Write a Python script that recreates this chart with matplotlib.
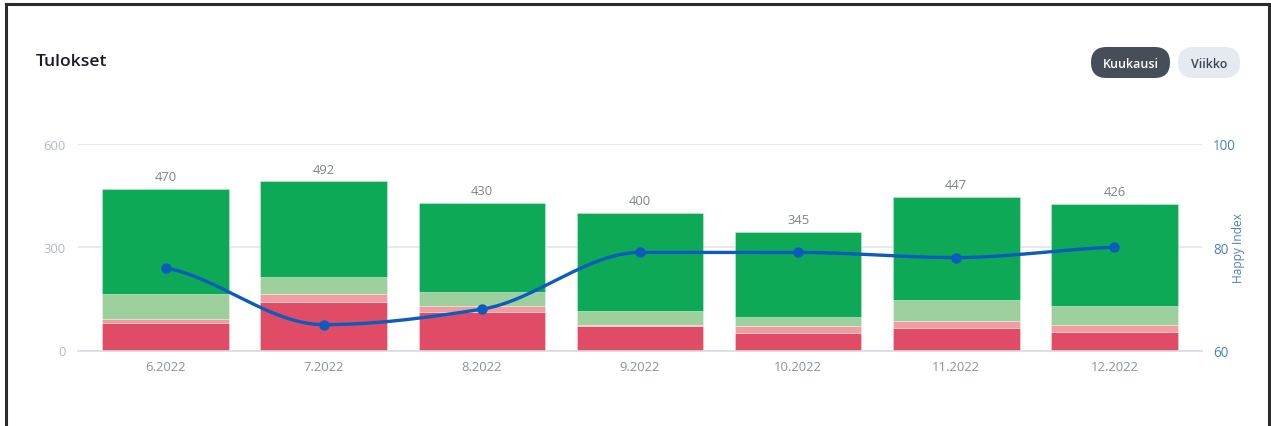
import numpy as np
import matplotlib
matplotlib.use("Agg")
import matplotlib.pyplot as plt
from matplotlib.patches import FancyBboxPatch
from matplotlib.lines import Line2D

plt.rcParams['font.family'] = ['Open Sans', 'DejaVu Sans']

# ---- data ----
months = ["6.2022", "7.2022", "8.2022", "9.2022", "10.2022", "11.2022", "12.2022"]
red = [79, 142, 111, 70, 51, 65, 55]
light_red = [13, 23, 18, 4, 19, 21, 20]
light_green = [73, 49, 42, 42, 27, 60, 55]
green = [305, 278, 259, 284, 248, 301, 296]
totals = [470, 492, 430, 400, 345, 447, 426]
happy_index = [76, 65, 68, 79, 79, 78, 80]
left_ticks = [0, 300, 600]
right_ticks = [60, 80, 100]

W, H = 1271, 427
fig = plt.figure(figsize=(W / 100, H / 100), dpi=100)
fig.patch.set_facecolor("white")

def px(v):
    return v * 0.72

ax_l, ax_r, ax_b, ax_t = 78, 1202, 351.5, 145
ax = fig.add_axes([ax_l / W, (H - ax_b) / H, (ax_r - ax_l) / W, (ax_b - ax_t) / H])
ax.set_facecolor("none")

x = np.arange(len(months))
colors = ["#e04c65", "#f19ca1", "#9dd09c", "#0ea957"]
bottom = np.zeros(len(months))
for vals, c in zip([red, light_red, light_green, green], colors):
    ax.bar(x, vals, width=0.8, bottom=bottom, color=c, edgecolor=(1, 1, 1, 0.35), linewidth=0.6, zorder=2)
    bottom += np.array(vals)

for xi, t in zip(x, totals):
    ax.annotate(str(t), (xi, t), xytext=(0, 4), textcoords="offset points",
                ha="center", va="bottom", fontsize=px(13), color="#7d8390", zorder=3)

ext = 8.5 / 158
ax.set_xlim(-0.5 - ext, len(months) - 0.5 + ext)
ax.set_ylim(0, 600)
ax.set_yticks(left_ticks)
ax.set_yticklabels([str(v) for v in left_ticks])
ax.yaxis.grid(True, color="#e3e6ea", linewidth=1.2, zorder=0)
ax.set_axisbelow(True)
ax.set_xticks(x)
ax.set_xticklabels(months)
ax.tick_params(axis="x", length=0, pad=7, labelsize=px(13), labelcolor="#8a93a2")
ax.tick_params(axis="y", length=0, pad=9, labelsize=px(13), labelcolor="#b3bac6")
for s in ["top", "right", "left"]:
    ax.spines[s].set_visible(False)
ax.spines["bottom"].set_color("#d8dce2")
ax.spines["bottom"].set_linewidth(1.2)

# right axis
ax2 = ax.twinx()
ax2.set_ylim(60, 100)
ax2.set_yticks(right_ticks)
ax2.set_yticklabels([str(v) for v in right_ticks])
ax2.tick_params(axis="y", length=0, pad=8, labelsize=px(13.5), labelcolor="#4c7fc6")
for s in ["top", "right", "left", "bottom"]:
    ax2.spines[s].set_visible(False)
ax2.set_ylabel("Happy Index", fontsize=px(12), color="#4c7fc6", labelpad=-3, fontweight="medium")

# smooth monotone curve through the happy index points
def pchip(xs, ys, n=300):
    xs = np.asarray(xs, float); ys = np.asarray(ys, float)
    h = np.diff(xs); d = np.diff(ys) / h
    m = np.zeros_like(ys)
    for k in range(1, len(ys) - 1):
        if d[k - 1] * d[k] > 0:
            w1 = 2 * h[k] + h[k - 1]; w2 = h[k] + 2 * h[k - 1]
            m[k] = (w1 + w2) / (w1 / d[k - 1] + w2 / d[k])
    m[0] = d[0] * 0.5
    m[-1] = d[-1] * 0.5
    xx = np.linspace(xs[0], xs[-1], n)
    idx = np.clip(np.searchsorted(xs, xx) - 1, 0, len(xs) - 2)
    t = (xx - xs[idx]) / h[idx]
    h00 = 2 * t**3 - 3 * t**2 + 1; h10 = t**3 - 2 * t**2 + t
    h01 = -2 * t**3 + 3 * t**2; h11 = t**3 - t**2
    yy = h00 * ys[idx] + h10 * h[idx] * m[idx] + h01 * ys[idx + 1] + h11 * h[idx] * m[idx + 1]
    return xx, yy

sx, sy = pchip(x, happy_index)
ax2.plot(sx, sy, color="#0b5cbd", linewidth=2.4, zorder=4, solid_capstyle="round")
ax2.plot(x, happy_index, "o", color="#0b5cbd", markersize=6.5, zorder=5)

# overlay for title, buttons, border
ov = fig.add_axes([0, 0, 1, 1])
ov.set_xlim(0, W); ov.set_ylim(H, 0)
ov.axis("off")
ov.patch.set_alpha(0)

ov.text(36, 62, "Tulokset", fontsize=px(17.5), color="#1b1a2b", ha="left", va="center", fontweight="semibold")

ov.add_patch(FancyBboxPatch((1091, 48), 79, 31, boxstyle="round,pad=0,rounding_size=15.5",
                            facecolor="#464e5a", edgecolor="none"))
ov.text(1130.5, 64, "Kuukausi", fontsize=px(12.5), color="white", ha="center", va="center", fontweight="semibold")
ov.add_patch(FancyBboxPatch((1178, 48), 62, 31, boxstyle="round,pad=0,rounding_size=15.5",
                            facecolor="#e5e9f0", edgecolor="none"))
ov.text(1209, 64, "Viikko", fontsize=px(12.5), color="#3b4352", ha="center", va="center", fontweight="semibold")

border = "#2b2b2b"
ov.add_line(Line2D([5.5, 5.5], [H, 5], color=border, linewidth=2.2))
ov.add_line(Line2D([5.5, 1268.5], [5, 5], color=border, linewidth=2.2))
ov.add_line(Line2D([1268.5, 1268.5], [5, H], color=border, linewidth=2.2))

fig.savefig("out.png", dpi=100, facecolor="white")
